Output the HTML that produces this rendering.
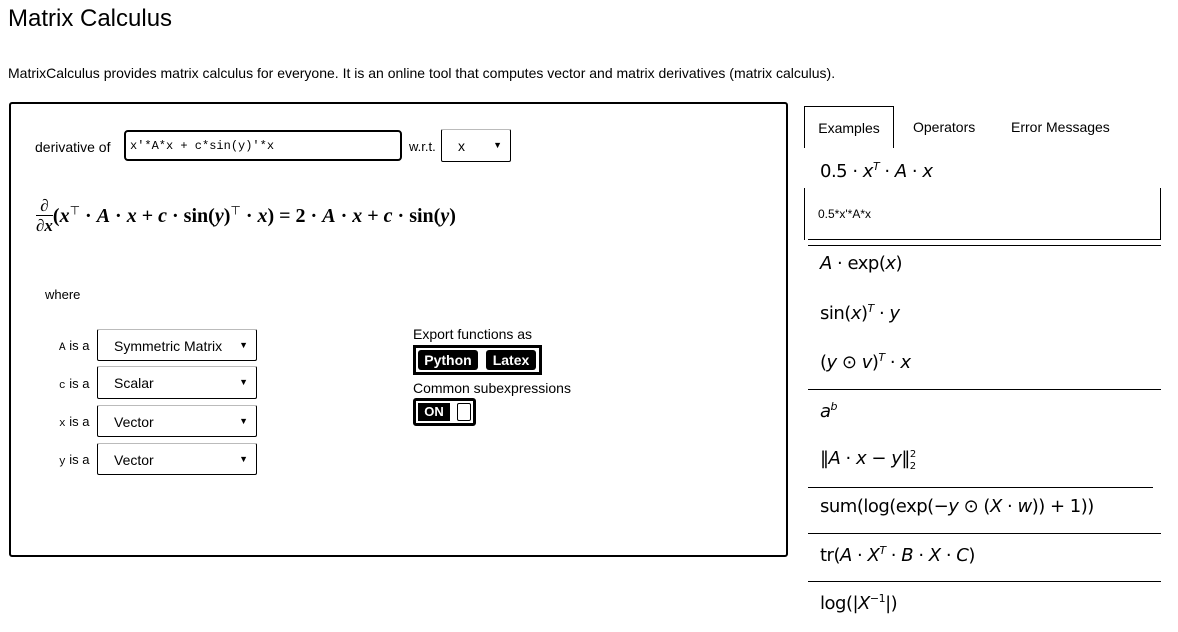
<!DOCTYPE html>
<html><head><meta charset="utf-8"><style>
body{margin:0;width:1178px;height:632px;background:#fff;font-family:"Liberation Sans",sans-serif;color:#000;position:relative;overflow:hidden}
.a{position:absolute;white-space:nowrap}
.mono{font-family:"Liberation Mono",monospace}
.sel{position:absolute;border:1px solid #000;border-top-color:#bbb;border-radius:2px;font-size:14px;box-sizing:border-box}
.sel span{position:absolute;left:16px;top:8px}
.sel i{position:absolute;right:8px;top:10px;font-style:normal;font-size:9px}
.ex{position:absolute;left:820px;font-size:18px;font-family:"DejaVu Sans","Liberation Sans",sans-serif;letter-spacing:-0.5px;white-space:nowrap}
.hl{position:absolute;height:1px;background:#000}
</style></head><body>
<div class="a" style="left:8px;top:5px;font-size:24px">Matrix Calculus</div>
<div class="a" style="left:8px;top:65px;font-size:14px">MatrixCalculus provides matrix calculus for everyone. It is an online tool that computes vector and matrix derivatives (matrix calculus).</div>

<div style="position:absolute;left:9px;top:102px;width:775px;height:451px;border:2px solid #000;border-radius:3px"></div>
<div class="a" style="left:35px;top:139px;font-size:14px">derivative of</div>
<div class="a mono" style="left:124px;top:130px;width:278px;height:31px;border:2px solid #000;border-radius:4px;font-size:12px;line-height:29px;padding-left:4px;box-sizing:border-box">x'*A*x + c*sin(y)'*x</div>
<div class="a" style="left:409px;top:139px;font-size:13px">w.r.t.</div>
<div class="sel" style="left:441px;top:129px;width:70px;height:33px"><span>x</span><i>▼</i></div>

<div class="a" style="left:36px;top:196px;font-size:20px;font-family:'Liberation Serif',serif;font-weight:bold">
<span style="display:inline-block;text-align:center;vertical-align:middle;font-size:17px;line-height:19px"><span style="display:block;border-bottom:1px solid #000">∂</span><span style="display:block"><i>∂x</i></span></span><span style="vertical-align:middle">(<i>x</i><sup style="font-size:12px;font-weight:normal">⊤</sup> · <i>A</i> · <i>x</i> + <i>c</i> · sin(<i>y</i>)<sup style="font-size:12px;font-weight:normal">⊤</sup> · <i>x</i>) = 2 · <i>A</i> · <i>x</i> + <i>c</i> · sin(<i>y</i>)</span></div>

<div class="a" style="left:45px;top:287px;font-size:13px">where</div>
<div class="a" style="left:59px;top:338px;font-size:13px"><span class="mono" style="font-size:11px">A</span> is a</div>
<div class="sel" style="left:97px;top:329px;width:160px;height:32px"><span>Symmetric Matrix</span><i>▼</i></div>
<div class="a" style="left:59px;top:376px;font-size:13px"><span class="mono" style="font-size:11px">c</span> is a</div>
<div class="sel" style="left:97px;top:366px;width:160px;height:33px"><span>Scalar</span><i>▼</i></div>
<div class="a" style="left:59px;top:414px;font-size:13px"><span class="mono" style="font-size:11px">x</span> is a</div>
<div class="sel" style="left:97px;top:405px;width:160px;height:32px"><span>Vector</span><i>▼</i></div>
<div class="a" style="left:59px;top:452px;font-size:13px"><span class="mono" style="font-size:11px">y</span> is a</div>
<div class="sel" style="left:97px;top:443px;width:160px;height:32px"><span>Vector</span><i>▼</i></div>

<div class="a" style="left:413px;top:326px;font-size:14px">Export functions as</div>
<div class="a" style="left:413px;top:345px;width:129px;height:30px;border:3px solid #000;box-sizing:border-box">
<div class="a" style="left:2px;top:2px;width:60px;height:20px;background:#000;color:#fff;font-size:14px;font-weight:bold;text-align:center;line-height:20px;border-radius:3px">Python</div>
<div class="a" style="left:70px;top:2px;width:50px;height:20px;background:#000;color:#fff;font-size:14px;font-weight:bold;text-align:center;line-height:20px;border-radius:3px">Latex</div></div>
<div class="a" style="left:413px;top:380px;font-size:14px">Common subexpressions</div>
<div class="a" style="left:413px;top:398px;width:63px;height:28px;border:3px solid #000;border-radius:3px;box-sizing:border-box">
<div class="a" style="left:2px;top:2px;width:32px;height:18px;background:#000;color:#fff;font-size:13px;font-weight:bold;text-align:center;line-height:18px">ON</div>
<div class="a" style="left:41px;top:2px;width:12px;height:16px;border:1px solid #000;border-radius:2px"></div></div>

<div class="a" style="left:804px;top:106px;width:90px;height:42px;border:1px solid #000;border-bottom:none;box-sizing:border-box;font-size:14px;text-align:center;line-height:42px">Examples</div>
<div class="a" style="left:913px;top:119px;font-size:14px">Operators</div>
<div class="a" style="left:1011px;top:119px;font-size:14px">Error Messages</div>

<div class="ex" style="top:160px"><span>0.5 · <i>x</i><sup style="font-size:11px"><i>T</i></sup> · <i>A</i> · <i>x</i></span></div>
<div class="a" style="left:804px;top:188px;width:357px;height:52px;border-left:1px solid #000;border-right:1px solid #000;box-sizing:border-box;font-size:12px;padding:19px 0 0 13px">0.5*x'*A*x</div>
<div class="hl" style="left:808px;top:239px;width:353px"></div>
<div class="hl" style="left:808px;top:245px;width:353px"></div>
<div class="ex" style="top:253px"><i>A</i> · exp(<i>x</i>)</div>
<div class="ex" style="top:302px">sin(<i>x</i>)<sup style="font-size:11px"><i>T</i></sup> · <i>y</i></div>
<div class="ex" style="top:351px">(<i>y</i> ⊙ <i>v</i>)<sup style="font-size:11px"><i>T</i></sup> · <i>x</i></div>
<div class="hl" style="left:808px;top:389px;width:353px"></div>
<div class="ex" style="top:400px"><i>a</i><sup style="font-size:11px"><i>b</i></sup></div>
<div class="ex" style="top:448px">‖<i>A</i> · <i>x</i> − <i>y</i>‖<sup style="font-size:10px">2</sup><sub style="font-size:10px;margin-left:-6px">2</sub></div>
<div class="hl" style="left:808px;top:487px;width:345px"></div>
<div class="ex" style="top:496px">sum(log(exp(−<i>y</i> ⊙ (<i>X</i> · <i>w</i>)) + 1))</div>
<div class="hl" style="left:808px;top:533px;width:353px"></div>
<div class="ex" style="top:544px">tr(<i>A</i> · <i>X</i><sup style="font-size:11px"><i>T</i></sup> · <i>B</i> · <i>X</i> · <i>C</i>)</div>
<div class="hl" style="left:808px;top:581px;width:353px"></div>
<div class="ex" style="top:592px">log(|<i>X</i><sup style="font-size:11px">−1</sup>|)</div>
</body></html>
